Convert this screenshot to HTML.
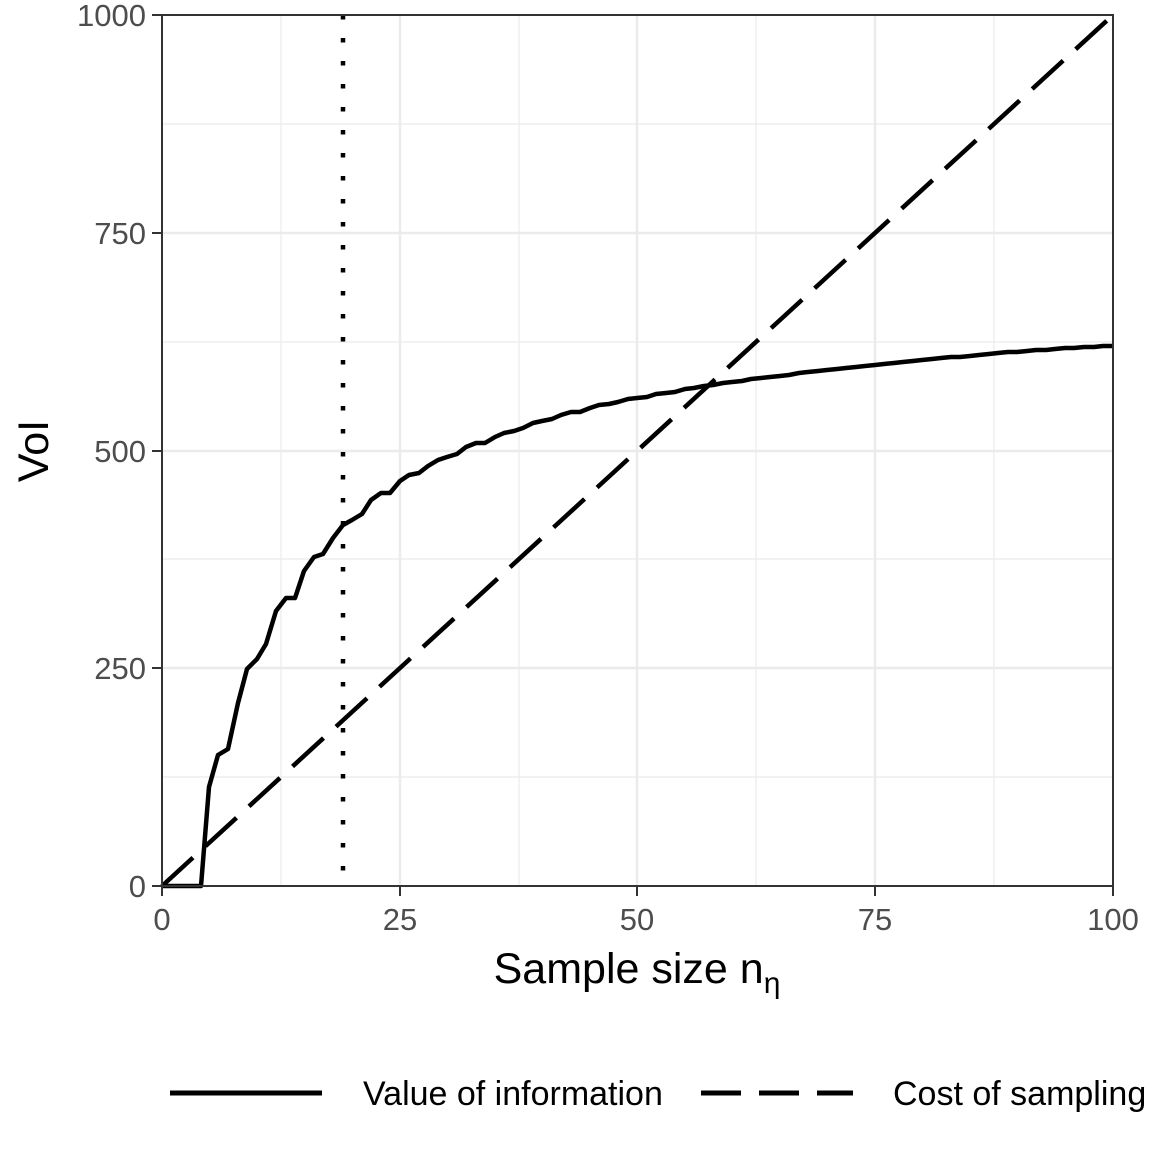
<!DOCTYPE html>
<html><head><meta charset="utf-8"><style>
html,body{margin:0;padding:0;background:#fff;}
svg text{font-family:"Liberation Sans",Arial,sans-serif;}
</style></head><body>
<svg width="1152" height="1152" viewBox="0 0 1152 1152" xmlns="http://www.w3.org/2000/svg">
<rect width="1152" height="1152" fill="#fff"/>
<g stroke="#ebebeb" stroke-width="1.2">
<line x1="281" y1="15" x2="281" y2="886"/><line x1="519" y1="15" x2="519" y2="886"/>
<line x1="756" y1="15" x2="756" y2="886"/><line x1="994" y1="15" x2="994" y2="886"/>
<line x1="162" y1="124" x2="1113" y2="124"/><line x1="162" y1="342" x2="1113" y2="342"/>
<line x1="162" y1="559" x2="1113" y2="559"/><line x1="162" y1="777" x2="1113" y2="777"/>
</g>
<g stroke="#ebebeb" stroke-width="2.5">
<line x1="400" y1="15" x2="400" y2="886"/><line x1="637" y1="15" x2="637" y2="886"/>
<line x1="875" y1="15" x2="875" y2="886"/>
<line x1="162" y1="233" x2="1113" y2="233"/><line x1="162" y1="451" x2="1113" y2="451"/>
<line x1="162" y1="668" x2="1113" y2="668"/>
</g>
<line x1="343" y1="15" x2="343" y2="886" stroke="#000" stroke-width="4.5" stroke-dasharray="4.5,18.5"/>
<line x1="162" y1="886" x2="1113" y2="15" stroke="#000" stroke-width="4.5" stroke-dasharray="42,17"/>
<polyline fill="none" stroke="#000" stroke-width="4.5" stroke-linejoin="round" points="162,886 201,886 209,787 218,755 228,749 238,703 247,669 257,659 266,644 276,611 286,598 295,598 304,571 314,557 323,554 333,538 343,525 352,520 362,514 371,500 381,493 390,493 400,481 409,475 419,473 428,466 438,460 447,457 457,454 466,447 476,443 485,443 495,437 504,433 514,431 523,428 533,423 542,421 552,419 561,415 571,412 580,412 590,408 599,405 609,404 618,402 628,399 637,398 647,397 656,394 666,393 675,392 685,389 694,388 704,386 713,385 723,383 732,382 742,381 751,379 761,378 770,377 780,376 789,375 799,373 808,372 818,371 827,370 837,369 846,368 856,367 865,366 875,365 884,364 894,363 903,362 913,361 922,360 932,359 941,358 951,357 960,357 970,356 979,355 989,354 998,353 1008,352 1017,352 1027,351 1036,350 1046,350 1055,349 1065,348 1074,348 1084,347 1094,347 1103,346 1113,346"/>
<rect x="162" y="15" width="951" height="871" fill="none" stroke="#333" stroke-width="2"/>
<g stroke="#333" stroke-width="2">
<line x1="152" y1="15" x2="162" y2="15"/><line x1="152" y1="233" x2="162" y2="233"/>
<line x1="152" y1="451" x2="162" y2="451"/><line x1="152" y1="668" x2="162" y2="668"/>
<line x1="152" y1="886" x2="162" y2="886"/>
<line x1="162" y1="886" x2="162" y2="896"/><line x1="400" y1="886" x2="400" y2="896"/>
<line x1="637" y1="886" x2="637" y2="896"/><line x1="875" y1="886" x2="875" y2="896"/>
<line x1="1113" y1="886" x2="1113" y2="896"/>
</g>
<g fill="#4d4d4d" font-size="31" text-anchor="end">
<text x="146" y="26">1000</text><text x="146" y="244">750</text>
<text x="146" y="462">500</text><text x="146" y="679">250</text>
<text x="146" y="897">0</text>
</g>
<g fill="#4d4d4d" font-size="31" text-anchor="middle">
<text x="162" y="930">0</text><text x="400" y="930">25</text><text x="637" y="930">50</text>
<text x="875" y="930">75</text><text x="1113" y="930">100</text>
</g>
<text x="637" y="983" font-size="43" text-anchor="middle" fill="#000">Sample size n<tspan font-size="30" dy="10">η</tspan></text>
<text transform="translate(48,451) rotate(-90)" font-size="43" text-anchor="middle" fill="#000">VoI</text>
<line x1="170" y1="1093" x2="322" y2="1093" stroke="#000" stroke-width="5"/>
<text x="363" y="1105" font-size="34" fill="#000">Value of information</text>
<line x1="701" y1="1093" x2="853" y2="1093" stroke="#000" stroke-width="5" stroke-dasharray="40,18"/>
<text x="893" y="1105" font-size="34" fill="#000">Cost of sampling</text>
</svg>
</body></html>
